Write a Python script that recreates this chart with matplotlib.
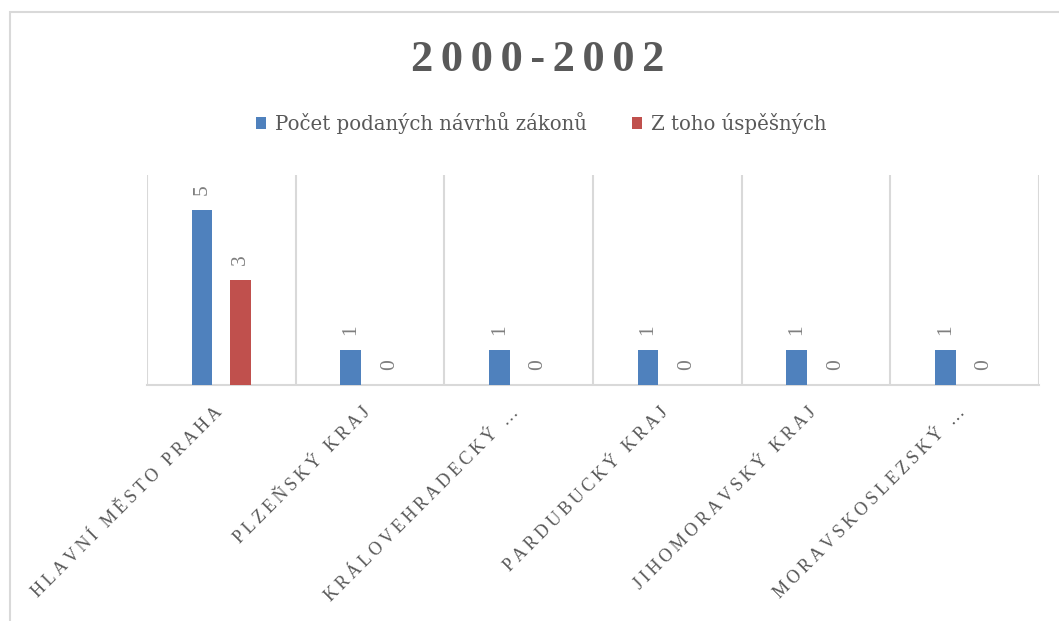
import numpy as np
import matplotlib.pyplot as plt
from matplotlib.patches import Rectangle
from matplotlib.transforms import ScaledTranslation

# data
kraje = ['HLAVNÍ MĚSTO PRAHA', 'PLZEŇSKÝ KRAJ', 'KRÁLOVEHRADECKÝ …',
         'PARDUBUCKÝ KRAJ', 'JIHOMORAVSKÝ KRAJ', 'MORAVSKOSLEZSKÝ …']
podane = [5, 1, 1, 1, 1, 1]
uspesne = [3, 0, 0, 0, 0, 0]
serie = ['Počet podaných návrhů zákonů', 'Z toho úspěšných']

blue = '#4f81bd'
red = '#c0504d'
grey = '#595959'
serif = ['Liberation Serif', 'DejaVu Serif']


def spaced(s, sep='\u2009'):
    # fake letter spacing
    return sep.join(s)


fig = plt.figure(figsize=(10.59, 6.21), dpi=100)
ax = fig.add_axes([147 / 1059, 1 - 385 / 621, 892 / 1059, 210 / 621])

x = np.arange(len(kraje))
w = 0.14
b1 = ax.bar(x - 0.13, podane, w, color=blue, label=serie[0], zorder=3)
b2 = ax.bar(x + 0.13, uspesne, w, color=red, label=serie[1], zorder=3)

for b in (b1, b2):
    ax.bar_label(b, padding=11, rotation=90, fontsize=15.5, color='#7f7f7f',
                 family=serif)

ax.set_xlim(-0.5, len(kraje) - 0.5)
ax.set_ylim(0, 6)
ax.set_yticks([])

# category separators
for xv in np.arange(-0.5, len(kraje), 1.0):
    ax.axvline(xv, color='#d9d9d9', lw=1.5, zorder=1)

for s in ['top', 'right', 'left']:
    ax.spines[s].set_visible(False)
ax.spines['bottom'].set_color('#d9d9d9')
ax.spines['bottom'].set_linewidth(1.5)

ax.set_xticks(x)
ax.set_xticklabels([spaced(k) for k in kraje], rotation=45, ha='right',
                   va='top', rotation_mode='anchor', fontsize=13,
                   color=grey, family=serif)
ax.tick_params(axis='x', length=0, pad=8)
shift = ScaledTranslation(-0.08, -0.08, fig.dpi_scale_trans)
for lab in ax.get_xticklabels():
    lab.set_transform(lab.get_transform() + shift)

fig.text(0.508, 1 - 60 / 621, spaced('2000-2002', '\u200a\u200a'),
         ha='center', va='center', fontsize=32, fontweight='bold',
         color=grey, family=serif)

fig.legend(loc='center', bbox_to_anchor=(0.511, 1 - 123 / 621), ncol=2,
           frameon=False, prop={'family': 'DejaVu Serif', 'size': 14.2},
           labelcolor=grey, handlelength=0.52, handleheight=0.52,
           handletextpad=0.45, columnspacing=2.3)

# outer chart border
fig.patches.append(Rectangle((9.5 / 1059, -0.1), 1.2, 1 - 11.5 / 621 + 0.1,
                             transform=fig.transFigure, fill=False,
                             ec='#d9d9d9', lw=1.5))

fig.savefig('out.png', dpi=100)
